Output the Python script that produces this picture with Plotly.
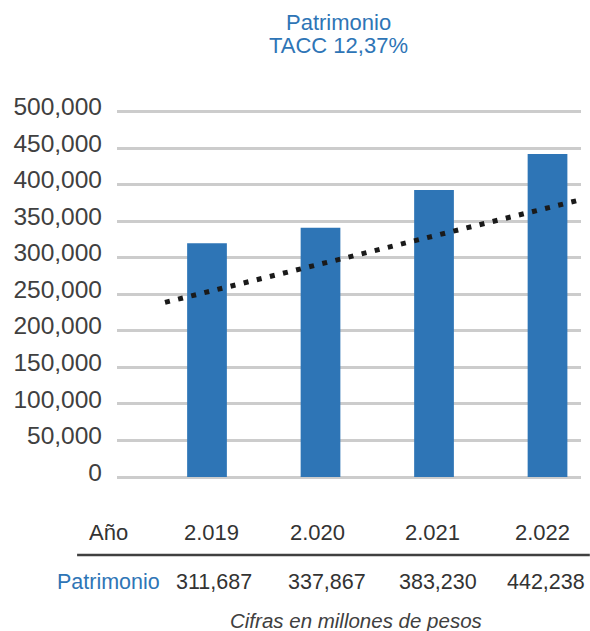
import plotly.graph_objects as go

# data
years = ["2.019", "2.020", "2.021", "2.022"]
patrimonio = [311687, 337867, 383230, 442238]          # table values
bar_heights = [320000, 341000, 393000, 442000]         # bar tops as drawn in the chart
trend_x = [-0.37, 3.37]
trend_y = [239000, 382500]
y_ticks = [0, 50000, 100000, 150000, 200000, 250000, 300000, 350000, 400000, 450000, 500000]

BLUE = "#2E75B6"
DARK = "#404040"
FONT = "Liberation Sans"

idx = list(range(len(years)))

fig = go.Figure()

fig.add_trace(go.Bar(
    x=idx, y=bar_heights, width=0.35,
    marker=dict(color=BLUE, line=dict(width=0)),
    hoverinfo="skip",
))

fig.add_trace(go.Scatter(
    x=trend_x, y=trend_y, mode="lines",
    line=dict(color="#1a1a1a", width=5, dash="5px,8.5px"),
    hoverinfo="skip",
))

# title (two lines) and table rows under the chart
ann = [
    dict(x=0.478, y=1.2364, xref="paper", yref="paper", text="Patrimonio",
         showarrow=False, xanchor="center", yanchor="middle",
         font=dict(size=22, color=BLUE, family=FONT)),
    dict(x=0.478, y=1.1712, xref="paper", yref="paper", text="TACC 12,37%",
         showarrow=False, xanchor="center", yanchor="middle",
         font=dict(size=22, color=BLUE, family=FONT)),
    dict(x=-0.68, y=-0.1495, xref="x", yref="paper", text="Año",
         showarrow=False, xanchor="right", yanchor="middle",
         font=dict(size=22, color="#333333", family=FONT)),
    dict(x=-0.396, y=-0.2853, xref="x", yref="paper", text="Patrimonio",
         showarrow=False, xanchor="right", yanchor="middle",
         font=dict(size=21.5, color=BLUE, family=FONT)),
]
year_shift = [4, -3, -2, -5]
value_shift = [7, 6, 4, -2]
for i, (yr, v) in enumerate(zip(years, patrimonio)):
    ann.append(dict(x=i, y=-0.1495, xref="x", yref="paper", text=yr,
                    showarrow=False, xanchor="center", yanchor="middle",
                    xshift=year_shift[i],
                    font=dict(size=22, color="#333333", family=FONT)))
    ann.append(dict(x=i, y=-0.2853, xref="x", yref="paper", text=f"{v:,}",
                    showarrow=False, xanchor="center", yanchor="middle",
                    xshift=value_shift[i],
                    font=dict(size=21.5, color="#333333", family=FONT)))
ann.append(dict(x=0.515, y=-0.3886, xref="paper", yref="paper",
                text="<i>Cifras en millones de pesos</i>",
                showarrow=False, xanchor="center", yanchor="middle",
                font=dict(size=20.5, color=DARK, family=FONT)))

fig.update_layout(
    width=590, height=631,
    margin=dict(l=117, r=9, t=109, b=154),
    paper_bgcolor="white", plot_bgcolor="white",
    showlegend=False,
    annotations=ann,
    shapes=[dict(type="line", xref="paper", yref="paper",
                 x0=-0.086, x1=1.019, y0=-0.212, y1=-0.212,
                 line=dict(color=DARK, width=2.5))],
    xaxis=dict(range=[-0.793, 3.295], showgrid=False, zeroline=False,
               showticklabels=False, showline=False, fixedrange=True),
    yaxis=dict(range=[0, 503700], tickvals=y_ticks, tickformat=",d",
               showgrid=True, gridcolor="#cccccc", gridwidth=2.5,
               zeroline=True, zerolinecolor="#cccccc", zerolinewidth=2.5,
               showline=False, ticks="", ticklabelstandoff=14, ticklabelshift=-5,
               tickfont=dict(size=24.5, color=DARK, family=FONT)),
)

fig.write_html("out.html", config={"displayModeBar": False},
               post_script="document.body.style.margin='0';")
